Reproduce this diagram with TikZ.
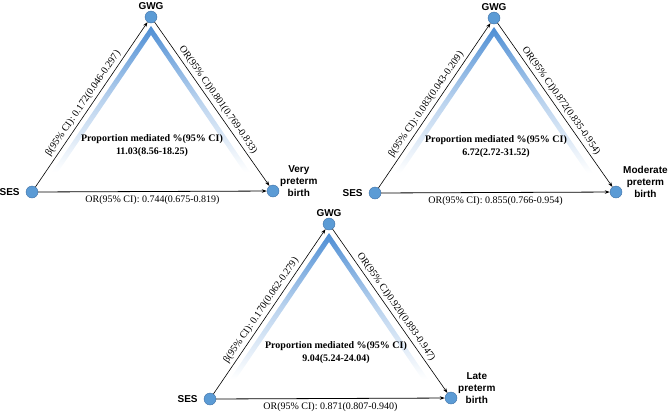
\documentclass[tikz,border=0pt]{standalone}
\usepackage{fontspec}
\setmainfont{Liberation Serif}
\setsansfont{Liberation Sans}
\usetikzlibrary{arrows.meta}
\definecolor{dotfill}{RGB}{91,155,213}
\definecolor{dotdraw}{RGB}{65,113,166}
\definecolor{bandtop}{RGB}{78,142,212}
\tikzset{
  dot/.style={circle,fill=dotfill,draw=dotdraw,line width=0.4pt,minimum size=12pt,inner sep=0pt},
  conn/.style={draw=black,line width=0.6pt,-{Stealth[length=5pt,width=3.5pt]}},
  elabel/.style={font=\fontsize{10}{12}\selectfont,inner sep=2.5pt},
  vlabel/.style={font=\sffamily\bfseries\fontsize{10}{12}\selectfont,inner sep=0pt,align=center},
  medtext/.style={font=\bfseries\fontsize{10}{12}\selectfont,align=center,inner sep=0pt}
}
% #1 prefix, #2 gx, #3 gy, #4 beta, #5 right OR, #6 bottom OR, #7 proportion, #8 outcome, #9 x offset of proportion
\newcommand\Triad[9]{%
  \begin{scope}[shift={(#2,#3)}]
    \shade[top color=bandtop, bottom color=white, middle color=bandtop!40!white]
      (-99,155) -- (0,9) -- (99,155) -- (93,155) -- (0,18) -- (-93,155) -- cycle;
    \node[dot] (#1g) at (0,0) {};
    \node[dot] (#1s) at (-119,175) {};
    \node[dot] (#1o) at (122,174) {};
    \node[vlabel,anchor=south] (#1gl) at ([yshift=1pt]#1g.north) {GWG};
    \node[vlabel,anchor=east] (#1sl) at ([xshift=-6pt]#1s.west) {SES};
    \node[vlabel,anchor=west] (#1ol) at ([xshift=7pt,yshift=10pt]#1o.center) {#8};
    \node[medtext] (#1m) at (#9,128.5) {Proportion mediated \%(95\% CI)\\[1pt]#7};
    \draw[conn] (#1s) -- node[elabel,sloped,above,pos=0.48] {#4} (#1g);
    \draw[conn] (#1g) -- node[elabel,sloped,above,pos=0.5] {#5} (#1o);
    \draw[conn,line width=0.8pt] (#1s) -- node[elabel,below=3pt,inner sep=0.5pt] {#6} (#1o);
  \end{scope}}
\begin{document}
\begin{tikzpicture}[x=1pt,y=-1pt]
\useasboundingbox (0,0) rectangle (669,416);
\Triad{a}{151}{17}{β(95\% CI): 0.172(0.046-0.297)}{OR(95\% CI)0.801(0.769-0.833)}{OR(95\% CI): 0.744(0.675-0.819)}{11.03(8.56-18.25)}{Very\\preterm\\birth}{1}
\Triad{b}{494}{18}{β(95\% CI): 0.083(0.043-0.209)}{OR(95\% CI)0.872(0.835-0.954)}{OR(95\% CI): 0.855(0.766-0.954)}{6.72(2.72-31.52)}{Moderate\\preterm\\birth}{2}
\Triad{c}{329}{224}{β(95\% CI): 0.170(0.062-0.279)}{OR(95\% CI)0.920(0.893-0.947)}{OR(95\% CI): 0.871(0.807-0.940)}{9.04(5.24-24.04)}{Late\\preterm\\birth}{7}
\end{tikzpicture}
\end{document}
